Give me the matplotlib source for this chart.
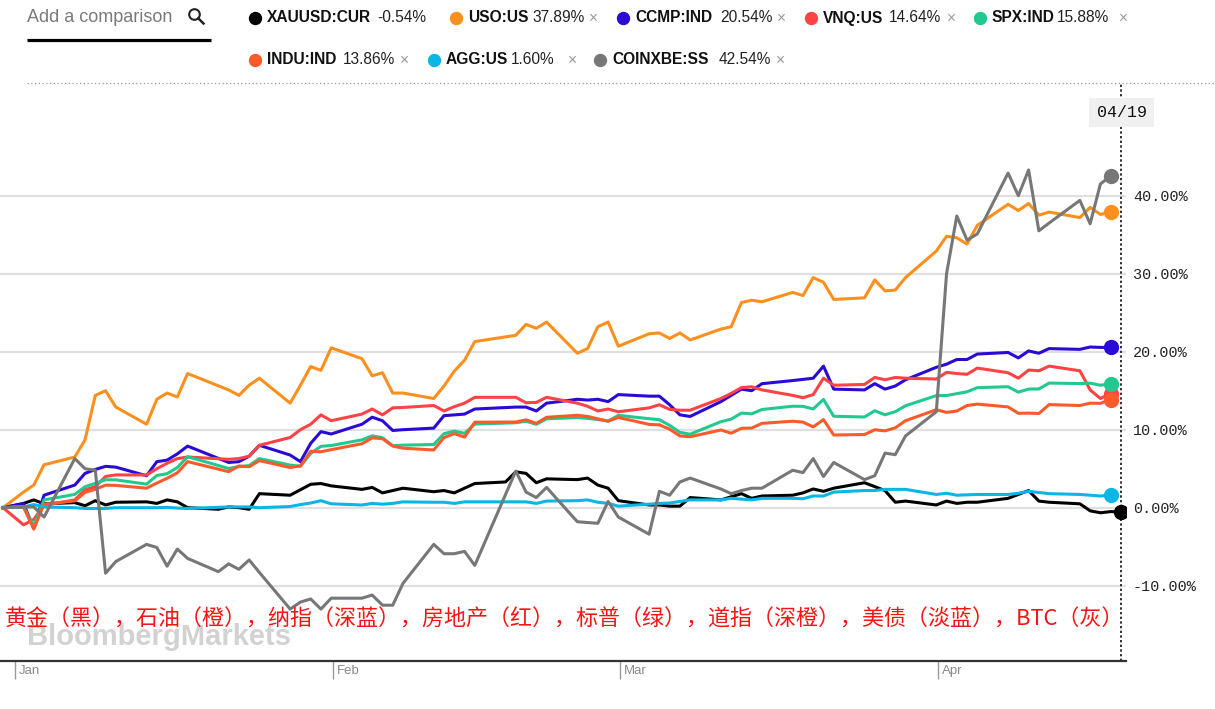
import pandas as pd
import matplotlib
matplotlib.use("Agg")
import matplotlib.pyplot as plt
import matplotlib.dates as mdates
from matplotlib.patches import Circle, Rectangle

plt.rcParams["font.family"] = ["Liberation Sans", "DejaVu Sans"]

# trading calendars (US exchanges, Stockholm, spot gold)
all_days = pd.bdate_range("2018-12-31", "2019-04-19")
us_days = all_days.drop(pd.to_datetime(["2019-01-01", "2019-01-21", "2019-02-18", "2019-04-19"]))
se_days = all_days.drop(pd.to_datetime(["2019-01-01", "2019-04-19"]))
fx_days = all_days.drop(pd.to_datetime(["2019-01-01"]))

# % change since 2018-12-31
xauusd = [0.0,
          0.55, 1.0, 0.5, 0.65, 0.25, 0.9, 0.35, 0.7, 0.75, 0.55, 1.0, 0.75, 0.0, -0.2, 0.1, 0.0, -0.2, 1.8, 1.6, 2.3, 3.0, 3.1,
          2.8, 2.35, 2.6, 1.9, 2.2, 2.5, 2.05, 2.2, 1.9, 2.5, 3.1, 3.3, 4.6, 4.4, 3.2, 3.7, 3.6, 3.8, 2.9, 2.5,
          0.9, 0.35, 0.35, 0.2, 0.2, 1.3, 1.0, 1.4, 1.8, 1.2, 1.5, 1.6, 1.9, 2.4, 2.1, 2.5, 3.2, 2.7, 2.2, 0.7, 0.85,
          0.35, 0.85, 0.55, 0.7, 0.7, 1.2, 1.7, 2.2, 0.85, 0.7, 0.5, -0.4, -0.65, -0.5, -0.54]
uso = [0.0,
       2.0, 2.9, 5.5, 6.5, 8.7, 14.4, 15.0, 12.9, 10.7, 13.9, 14.7, 14.2, 17.2, 15.1, 14.4, 15.7, 16.6, 13.4, 15.7, 18.1, 17.6,
       20.5, 19.1, 16.9, 17.3, 14.7, 14.7, 14.0, 15.6, 17.5, 18.9, 21.3, 22.1, 23.5, 23.0, 23.8, 19.8, 20.4, 23.2, 23.8,
       20.7, 22.3, 22.4, 21.7, 22.4, 21.5, 22.9, 23.2, 26.3, 26.6, 26.4, 27.6, 27.2, 29.5, 28.9, 26.7, 26.9, 29.2, 27.8, 27.9, 29.5,
       32.9, 34.8, 34.6, 33.8, 36.2, 38.9, 38.1, 39.0, 37.5, 37.9, 37.2, 38.5, 37.6, 37.89]
ccmp = [0.0,
        0.5, -2.6, 1.6, 2.9, 4.4, 4.9, 5.3, 5.2, 4.1, 5.9, 6.1, 6.9, 7.9, 5.8, 5.9, 6.6, 8.0, 6.75, 5.9, 8.25, 9.75,
        9.45, 10.7, 11.6, 11.15, 9.9, 10.0, 10.2, 11.8, 11.9, 12.0, 12.65, 12.9, 12.9, 12.4, 13.4, 13.9, 13.8, 13.9, 13.6,
        14.5, 14.3, 14.3, 13.2, 11.9, 11.7, 13.6, 14.4, 15.2, 15.0, 15.9, 16.3, 16.45, 16.6, 18.15, 15.2, 15.1, 15.9, 15.2, 15.6, 16.4,
        18.0, 18.4, 19.0, 19.0, 19.7, 19.9, 19.2, 20.1, 19.8, 20.4, 20.3, 20.6, 20.55, 20.54]
vnq = [0.0,
       -2.2, -1.5, 0.3, 1.0, 2.3, 2.7, 4.0, 4.2, 4.2, 5.0, 5.7, 6.3, 6.5, 6.2, 6.3, 6.6, 8.0, 9.0, 10.0, 10.7, 11.9,
       11.15, 12.0, 12.65, 11.9, 12.8, 12.85, 13.1, 12.4, 12.95, 13.4, 14.15, 14.15, 13.45, 13.5, 14.15, 13.4, 13.0, 12.4, 12.65,
       12.3, 12.8, 13.2, 12.6, 12.5, 12.5, 14.0, 14.65, 15.4, 15.5, 15.1, 14.4, 14.1, 14.5, 16.6, 15.7, 15.8, 16.7, 16.4, 16.7, 16.6,
       16.5, 17.35, 17.2, 17.1, 17.9, 17.3, 16.6, 17.65, 17.55, 18.15, 17.55, 15.1, 14.0, 14.64]
spx = [0.0,
       0.13, -2.35, 1.0, 1.71, 2.69, 3.12, 3.58, 3.57, 3.02, 4.13, 4.36, 5.15, 6.54, 5.03, 5.26, 5.4, 6.3, 5.46, 5.31, 6.95, 7.87,
       7.97, 8.7, 9.21, 8.97, 7.95, 8.02, 8.1, 9.49, 9.82, 9.53, 10.72, 10.89, 11.08, 10.69, 11.4, 11.55, 11.45, 11.3, 11.1,
       11.84, 11.41, 11.28, 10.56, 9.66, 9.42, 11.03, 11.35, 12.13, 12.03, 12.59, 13.01, 12.99, 12.66, 13.88, 11.72, 11.63, 12.43, 11.91, 12.31, 13.07,
       14.37, 14.38, 14.62, 14.86, 15.39, 15.51, 14.81, 15.21, 15.22, 15.98, 15.91, 15.97, 15.7, 15.88]
indu = [0.0,
        0.08, -2.75, 0.45, 0.87, 1.97, 2.36, 2.89, 2.86, 2.5, 3.16, 3.77, 4.47, 5.91, 4.62, 5.35, 5.25, 6.04, 5.15, 5.37, 7.23, 7.17,
        7.44, 8.2, 8.95, 8.85, 7.9, 7.63, 7.4, 8.99, 9.5, 9.05, 10.96, 10.99, 11.26, 10.81, 11.59, 11.85, 11.7, 11.39, 11.1,
        11.57, 10.68, 10.62, 10.06, 9.2, 9.1, 9.96, 9.55, 10.18, 10.21, 10.81, 11.09, 10.97, 10.36, 11.29, 9.32, 9.38, 9.99, 9.85, 10.24, 11.15,
        12.56, 12.22, 12.39, 13.1, 13.28, 12.92, 12.1, 12.13, 12.07, 13.22, 13.1, 13.4, 13.38, 13.86]
agg = [0.0,
       0.1, 0.4, 0.1, 0.0, -0.1, -0.1, -0.1, 0.0, 0.0, 0.0, 0.05, -0.05, -0.1, 0.1, 0.1, 0.1, 0.0, 0.15, 0.4, 0.6, 0.9,
       0.5, 0.35, 0.55, 0.45, 0.55, 0.75, 0.7, 0.7, 0.55, 0.75, 0.75, 0.75, 0.75, 0.55, 0.85, 0.9, 1.0, 0.7, 0.55,
       0.2, 0.45, 0.55, 0.6, 0.8, 1.0, 1.0, 1.2, 1.1, 1.0, 1.2, 1.2, 1.15, 1.5, 1.5, 2.0, 2.2, 2.2, 2.35, 2.35, 2.35,
       1.7, 1.85, 1.6, 1.65, 1.7, 1.7, 1.85, 2.1, 1.95, 1.8, 1.7, 1.6, 1.5, 1.6]
coinxbe = [0.0,
           0.1, 0.1, -1.2, 6.3, 5.0, 4.8, -8.4, -6.9, -4.7, -5.1, -7.5, -5.3, -6.5, -8.2, -7.2, -7.9, -6.7, -8.3, -13.0, -12.1, -11.7, -13.0,
           -11.6, -11.6, -11.2, -12.5, -12.5, -9.7, -4.7, -5.9, -5.9, -5.6, -7.4, 1.7, 4.7, 2.0, 1.3, 2.6, -1.8, -1.9, -2.0, 0.8,
           -1.2, -3.4, 2.1, 1.6, 3.3, 3.8, 2.4, 1.8, 2.2, 2.5, 2.5, 4.8, 4.5, 6.3, 4.0, 5.8, 3.6, 4.1, 7.0, 6.8, 9.2,
           12.3, 30.0, 37.4, 34.3, 35.1, 42.9, 40.0, 43.3, 35.5, 36.5, 39.4, 36.4, 41.5, 42.54]

tickers = ["XAUUSD:CUR", "USO:US", "CCMP:IND", "VNQ:US", "SPX:IND", "INDU:IND", "AGG:US", "COINXBE:SS"]
series = [xauusd, uso, ccmp, vnq, spx, indu, agg, coinxbe]
calendars = [fx_days, us_days, us_days, us_days, us_days, us_days, us_days, se_days]
colors = ["#000000", "#fb901e", "#2a0ad6", "#fd4346", "#22c98f", "#fd5a2b", "#0bb6e6", "#777777"]
y_ticks = [-10, 0, 10, 20, 30, 40]
note = "黄金（黑），石油（橙），纳指（深蓝），房地产（红），标普（绿），道指（深橙），美债（淡蓝），BTC（灰）"

W, H = 1215, 709
fig = plt.figure(figsize=(W / 100, H / 100), dpi=100)
fig.patch.set_facecolor("white")

ax = fig.add_axes([0, (H - 661) / H, 1126 / W, (661 - 83) / H])
px_day = 10.256
t0 = mdates.date2num(all_days[0].to_pydatetime())
ax.set_xlim(t0 - 3 / px_day, t0 + 1123 / px_day)
ax.set_ylim((507.7 - 661) / 7.8, (507.7 - 83) / 7.8)

for vals, days, col in zip(series, calendars, colors):
    x = mdates.date2num(days.to_pydatetime())
    ax.plot(x, vals, color=col, lw=2.2, zorder=3)
    ax.plot(x[-1], vals[-1], "o", ms=10, color=col, zorder=4)

ax.set_yticks(y_ticks)
ax.set_yticklabels([f"{v:.2f}%" for v in y_ticks], family="Liberation Mono")
ax.yaxis.tick_right()
ax.tick_params(axis="y", length=0, pad=5, labelsize=10.9, labelcolor="#222222")
ax.grid(axis="y", color="#e0e0e0", lw=1.6)
ax.set_axisbelow(True)

months = pd.date_range("2019-01-01", "2019-04-01", freq="MS")
mx = mdates.date2num(months.to_pydatetime())
ax.set_xticks(mx + 0.2)
ax.set_xticklabels([])
ax.tick_params(axis="x", length=13, width=1, color="#9a9a9a", direction="out")
for m, xm in zip(months, mx):
    ax.text(xm + 0.55, -0.018, m.strftime("%b"), transform=ax.get_xaxis_transform(),
            ha="left", va="center", fontsize=9.5, color="#8a8a8a")

for s in ["top", "left", "right"]:
    ax.spines[s].set_visible(False)
ax.spines["bottom"].set_color("#333333")
ax.spines["bottom"].set_linewidth(1.6)

ax.axvline(mdates.date2num(fx_days[-1].to_pydatetime()), color="#333333", lw=1.4,
           ls=(0, (1.2, 1.2)), zorder=2)

# overlay in pixel coordinates for header, watermark and note
ov = fig.add_axes([0, 0, 1, 1], zorder=5)
ov.set_xlim(0, W)
ov.set_ylim(H, 0)
ov.axis("off")

ov.plot([27, W], [83, 83], color="#999999", lw=0.9, ls=(0, (1, 2)))

ov.text(27, 18, "Add a comparison", fontsize=13, color="#7a7a7a", va="center")
ov.plot([27, 211], [39.5, 39.5], color="black", lw=2.3, solid_capstyle="butt")
ov.add_patch(Circle((194.5, 14.5), 5.3, fill=False, lw=1.5, ec="#222222"))
ov.plot([198.3, 203.5], [18.3, 23.5], color="#222222", lw=1.8)

# legend layout: (dot x, row y, value x, cross x)
legend_pos = [(255, 18, 377, None), (456, 18, 532, 589), (623, 18, 720.5, 777),
              (811, 18, 889, 946.5), (980, 18, 1056.5, 1119),
              (255, 60, 343, 400), (434, 60, 511, 568), (600, 60, 718.6, 776)]
for (dx, ry, vx, cx), name, vals, col in zip(legend_pos, tickers, series, colors):
    ov.plot(dx, ry, "o", ms=8.6, color=col)
    ov.text(dx + 12, ry, name, fontsize=11.2, fontweight="bold", color="#111111", va="center")
    ov.text(vx, ry, f"{vals[-1]:.2f}%", fontsize=11.2, color="#222222", va="center")
    if cx is not None:
        ov.text(cx, ry, "×", fontsize=11.2, color="#9a9a9a", va="center")

ov.add_patch(Rectangle((1089, 98), 65, 29, fc="#f0f0f0", ec="none"))
ov.text(1121.5, 112.5, fx_days[-1].strftime("%m/%d"), fontsize=12, family="Liberation Mono",
        color="#111111", ha="center", va="center")

ov.text(27, 637, "BloombergMarkets", fontsize=21, fontweight="bold", color="#d2d2d2",
        va="center", ha="left")
ov.text(5, 620, note, fontsize=15.8, color="#f51515", va="center", ha="left",
        family=["Noto Sans CJK SC", "DejaVu Sans"])

fig.savefig("out.png", dpi=100)
